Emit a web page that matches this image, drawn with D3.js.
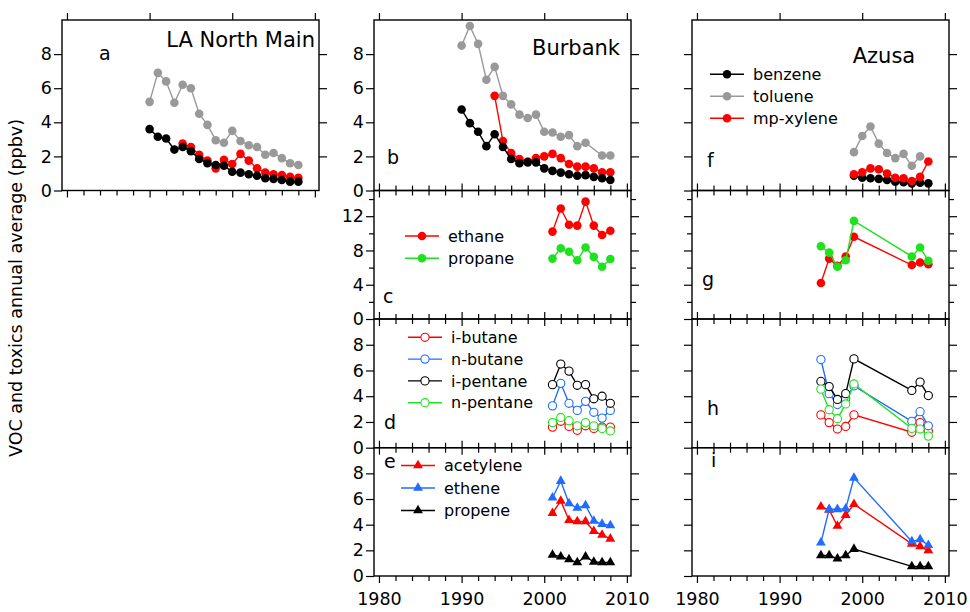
<!DOCTYPE html>
<html>
<head>
<meta charset="utf-8">
<script src="https://cdn.jsdelivr.net/npm/d3@7"></script>
<style>
  body { margin: 0; background: #fff; }
  svg { font-family: "DejaVu Sans", sans-serif; }
</style>
</head>
<body>
<svg id="chart" width="970" height="612"></svg>
<script>
// annees des series
var yearsLA = [1990,1991,1992,1993,1994,1995,1996,1997,1998,1999,2000,2001,2002,2003,2004,2005,2006,2007,2008];
var yearsBurbank = [1990,1991,1992,1993,1994,1995,1996,1997,1998,1999,2000,2001,2002,2003,2004,2005,2006,2007,2008];
var yearsBurbankVoc = [2001,2002,2003,2004,2005,2006,2007,2008];
var yearsAzusa = [1999,2000,2001,2002,2003,2004,2005,2006,2007,2008];
var yearsAzusaVoc = [1995,1996,1997,1998,1999,2006,2007,2008];

// a : LA North Main
var laBenzene = [3.6,3.15,3.05,2.4,2.55,2.3,1.85,1.6,1.5,1.45,1.1,1.05,0.95,0.87,0.72,0.68,0.62,0.52,0.52];
var laToluene = [5.2,6.9,6.4,5.15,6.2,6.0,4.5,3.85,2.95,2.8,3.5,2.9,2.65,2.55,2.1,2.2,1.9,1.6,1.5];
var laXylene = [null,null,null,null,2.75,2.55,2.1,1.75,1.3,1.8,1.55,2.15,1.75,1.3,1.05,0.95,0.9,0.8,0.75];

// b : Burbank
var bbBenzene = [4.75,3.95,3.45,2.6,3.3,2.55,1.85,1.6,1.65,1.65,1.3,1.15,1.05,0.95,0.87,0.9,0.8,0.72,0.62];
var bbToluene = [8.5,9.65,8.6,6.5,7.25,5.55,5.05,4.45,4.25,4.45,3.45,3.4,3.15,3.25,2.6,2.8,null,2.05,2.05];
var bbXylene = [null,null,null,null,5.55,2.9,2.2,1.85,1.7,1.9,2.0,2.15,1.9,1.55,1.4,1.4,1.3,1.07,1.07];

// c, d, e : Burbank
var bbEthane = [10.2,12.9,11.0,10.9,13.7,10.9,9.8,10.3];
var bbPropane = [7.05,8.25,7.85,6.85,8.35,7.25,6.1,7.0];
var bbIButane = [1.6,2.05,1.65,1.35,1.7,1.5,1.6,1.6];
var bbNButane = [3.25,5.0,3.45,2.9,3.6,2.75,2.3,2.9];
var bbIPentane = [4.9,6.5,5.95,4.85,4.9,3.8,4.0,3.45];
var bbNPentane = [1.95,2.35,2.1,1.7,1.95,1.7,1.5,1.3];
var bbAcetylene = [4.9,5.85,4.35,4.25,4.25,3.5,3.2,2.9];
var bbEthene = [6.1,7.4,5.65,5.3,5.5,4.3,4.05,3.95];
var bbPropene = [1.65,1.5,1.3,1.05,1.5,1.1,1.05,1.05];

// f : Azusa
var azBenzene = [0.87,0.75,0.72,0.68,0.62,0.52,0.48,0.42,0.46,0.42];
var azToluene = [2.25,3.2,3.75,2.75,2.2,1.9,2.15,1.45,2.0,null];
var azXylene = [0.95,1.07,1.3,1.25,1.0,0.75,0.72,0.56,0.8,1.7];

// g, h, i : Azusa
var azEthane = [4.2,7.05,6.2,7.3,9.6,6.3,6.6,6.4];
var azPropane = [8.5,7.75,6.1,6.85,11.45,7.3,8.35,6.8];
var azIButane = [2.55,1.95,1.45,1.65,2.55,1.2,1.95,1.3];
var azNButane = [6.85,4.2,3.35,3.8,4.8,2.05,2.8,1.7];
var azIPentane = [5.15,4.75,3.75,4.2,6.9,4.45,5.1,4.05];
var azNPentane = [4.55,2.95,2.25,3.4,4.95,1.5,1.45,0.9];
var azAcetylene = [5.4,5.15,3.9,4.75,5.6,2.5,2.3,2.0];
var azEthene = [2.6,5.2,5.2,5.25,7.65,2.7,2.85,2.4];
var azPropene = [1.6,1.6,1.35,1.6,2.1,0.75,0.75,0.75];

// graduations
var majorYears = [1980,1990,2000,2010];
var minorYears = [1982,1984,1986,1988,1992,1994,1996,1998,2002,2004,2006,2008];
var ticks10 = [0,2,4,6,8];
var ticks15 = [0,4,8,12];
var minor15 = [2,6,10,14];

var red = "#ff0000", gray = "#999999", green = "#1ee21e", blue = "#1f6cff";

var cols = [{x0: 62, x1: 319}, {x0: 374, x1: 631}, {x0: 692, x1: 949}];
var rows = [{y0: 20, y1: 190.5}, {y0: 190.5, y1: 319}, {y0: 319, y1: 447.7}, {y0: 447.7, y1: 576}];

function s(name, years, values, color, marker) {
    return { name: name, years: years, values: values, color: color, marker: marker };
}

var panels = [
    { col: 0, row: 0, letter: "a", lx: 99, ly: 60, ymax: 10, title: "LA North Main", tx: 315, ty: 47, anchor: "end",
      series: [s("toluene", yearsLA, laToluene, gray, "dot"), s("mp-xylene", yearsLA, laXylene, red, "dot"), s("benzene", yearsLA, laBenzene, "#000", "dot")] },
    { col: 1, row: 0, letter: "b", lx: 387, ly: 164, ymax: 10, title: "Burbank", tx: 620, ty: 55, anchor: "end",
      series: [s("toluene", yearsBurbank, bbToluene, gray, "dot"), s("mp-xylene", yearsBurbank, bbXylene, red, "dot"), s("benzene", yearsBurbank, bbBenzene, "#000", "dot")] },
    { col: 1, row: 1, letter: "c", lx: 383, ly: 303, ymax: 15,
      legend: { x: 405, y: 236, dy: 22.3 },
      series: [s("ethane", yearsBurbankVoc, bbEthane, red, "dot"), s("propane", yearsBurbankVoc, bbPropane, green, "dot")] },
    { col: 1, row: 2, letter: "d", lx: 384, ly: 429, ymax: 10,
      legend: { x: 408, y: 337.3, dy: 21.8 },
      series: [s("i-butane", yearsBurbankVoc, bbIButane, red, "ring"), s("n-butane", yearsBurbankVoc, bbNButane, blue, "ring"),
               s("i-pentane", yearsBurbankVoc, bbIPentane, "#000", "ring"), s("n-pentane", yearsBurbankVoc, bbNPentane, green, "ring")] },
    { col: 1, row: 3, letter: "e", lx: 384, ly: 468, ymax: 10,
      legend: { x: 401, y: 465.5, dy: 22.5 },
      series: [s("acetylene", yearsBurbankVoc, bbAcetylene, red, "tri"), s("ethene", yearsBurbankVoc, bbEthene, blue, "tri"), s("propene", yearsBurbankVoc, bbPropene, "#000", "tri")] },
    { col: 2, row: 0, letter: "f", lx: 707, ly: 167, ymax: 10, title: "Azusa", tx: 884, ty: 63, anchor: "middle",
      legend: { x: 710, y: 74.3, dy: 22 },
      series: [s("benzene", yearsAzusa, azBenzene, "#000", "dot"), s("toluene", yearsAzusa, azToluene, gray, "dot"), s("mp-xylene", yearsAzusa, azXylene, red, "dot")] },
    { col: 2, row: 1, letter: "g", lx: 702, ly: 286, ymax: 15,
      series: [s("ethane", yearsAzusaVoc, azEthane, red, "dot"), s("propane", yearsAzusaVoc, azPropane, green, "dot")] },
    { col: 2, row: 2, letter: "h", lx: 707, ly: 415, ymax: 10,
      series: [s("i-butane", yearsAzusaVoc, azIButane, red, "ring"), s("n-butane", yearsAzusaVoc, azNButane, blue, "ring"),
               s("i-pentane", yearsAzusaVoc, azIPentane, "#000", "ring"), s("n-pentane", yearsAzusaVoc, azNPentane, green, "ring")] },
    { col: 2, row: 3, letter: "i", lx: 711, ly: 467, ymax: 10,
      series: [s("acetylene", yearsAzusaVoc, azAcetylene, red, "tri"), s("ethene", yearsAzusaVoc, azEthene, blue, "tri"), s("propene", yearsAzusaVoc, azPropene, "#000", "tri")] }
];

var svg = d3.select("#chart");

// titre de l'axe y commun
svg.append("text")
    .attr("transform", "translate(22,288) rotate(-90)")
    .attr("text-anchor", "middle")
    .attr("font-size", 17.5)
    .text("VOC and toxics annual average (ppbv)");

function drawMarker(g, type, color, cx, cy) {
    if (type == "dot") {
        g.append("circle").attr("cx", cx).attr("cy", cy).attr("r", 4.3).attr("fill", color);
    } else if (type == "ring") {
        g.append("circle").attr("cx", cx).attr("cy", cy).attr("r", 4.1)
            .attr("fill", "#fff").attr("stroke", color).attr("stroke-width", 1.1);
    } else {
        g.append("path").attr("d", d3.symbol(d3.symbolTriangle, 42)())
            .attr("transform", "translate(" + cx + "," + cy + ")").attr("fill", color);
    }
}

panels.forEach(function(p) {
    var c = cols[p.col], r = rows[p.row];
    var x = d3.scaleLinear().domain([1979.4, 2010.5]).range([c.x0, c.x1]);
    var y = d3.scaleLinear().domain([0, p.ymax]).range([r.y1, r.y0]);
    var g = svg.append("g");

    var yMajor = p.ymax == 15 ? ticks15 : ticks10;
    var labels = p.col < 2;

    // axe gauche
    var left = g.append("g").attr("transform", "translate(" + c.x0 + ",0)")
        .call(d3.axisLeft(y).tickValues(yMajor).tickSize(8).tickPadding(2)
            .tickFormat(labels ? d3.format("d") : ""));
    left.select(".domain").remove();
    left.selectAll("text").attr("font-size", 17.5).attr("font-family", "DejaVu Sans").attr("fill", "#000");
    left.selectAll("line").attr("stroke-width", 1.2);

    // axe droit
    var right = g.append("g").attr("transform", "translate(" + c.x1 + ",0)")
        .call(d3.axisRight(y).tickValues(yMajor.filter(function(v) { return v > 0; })).tickSize(8).tickFormat(""));
    right.select(".domain").remove();
    right.selectAll("line").attr("stroke-width", 1.2);

    if (p.ymax == 15) {
        [[c.x0, d3.axisLeft], [c.x1, d3.axisRight]].forEach(function(a) {
            var m = g.append("g").attr("transform", "translate(" + a[0] + ",0)")
                .call(a[1](y).tickValues(minor15).tickSize(5).tickFormat(""));
            m.select(".domain").remove();
            m.selectAll("line").attr("stroke-width", 1.2);
        });
    }

    // axe du bas
    var bottom = g.append("g").attr("transform", "translate(0," + r.y1 + ")")
        .call(d3.axisBottom(x).tickValues(majorYears).tickSize(7).tickPadding(10)
            .tickFormat(p.row == 3 ? d3.format("d") : ""));
    bottom.select(".domain").remove();
    bottom.selectAll("text").attr("font-size", 17.5).attr("font-family", "DejaVu Sans").attr("fill", "#000");
    bottom.selectAll("line").attr("stroke-width", 1.2);
    var bMinor = g.append("g").attr("transform", "translate(0," + r.y1 + ")")
        .call(d3.axisBottom(x).tickValues(minorYears).tickSize(5).tickFormat(""));
    bMinor.select(".domain").remove();
    bMinor.selectAll("line").attr("stroke-width", 1.2);

    // axe du haut
    var top = g.append("g").attr("transform", "translate(0," + r.y0 + ")")
        .call(d3.axisTop(x).tickValues(majorYears).tickSize(7).tickFormat(""));
    top.select(".domain").remove();
    top.selectAll("line").attr("stroke-width", 1.2);
    if (p.row > 0) {
        var tMinor = g.append("g").attr("transform", "translate(0," + r.y0 + ")")
            .call(d3.axisTop(x).tickValues(minorYears).tickSize(5).tickFormat(""));
        tMinor.select(".domain").remove();
        tMinor.selectAll("line").attr("stroke-width", 1.2);
    }

    // cadre
    g.append("rect")
        .attr("x", c.x0).attr("y", r.y0)
        .attr("width", c.x1 - c.x0).attr("height", r.y1 - r.y0)
        .attr("fill", "none").attr("stroke", "#000").attr("stroke-width", 1.4);

    // series
    p.series.forEach(function(se) {
        var pts = se.years.map(function(yr, i) { return { date: yr, value: se.values[i] }; })
            .filter(function(d) { return d.value != null; });
        var line = d3.line()
            .x(function(d) { return x(d.date); })
            .y(function(d) { return y(d.value); });
        g.append("path")
            .datum(pts)
            .attr("fill", "none")
            .attr("stroke", se.color)
            .attr("stroke-width", 1.4)
            .attr("d", line);
        pts.forEach(function(d) { drawMarker(g, se.marker, se.color, x(d.date), y(d.value)); });
    });

    // lettre du panneau
    g.append("text").attr("x", p.lx).attr("y", p.ly).attr("font-size", 19).text(p.letter);

    if (p.title) {
        g.append("text").attr("x", p.tx).attr("y", p.ty).attr("font-size", 21)
            .attr("text-anchor", p.anchor).text(p.title);
    }

    // legende
    if (p.legend) {
        p.series.forEach(function(se, i) {
            var ly = p.legend.y + i * p.legend.dy;
            g.append("line").attr("x1", p.legend.x).attr("x2", p.legend.x + 34)
                .attr("y1", ly).attr("y2", ly)
                .attr("stroke", se.color).attr("stroke-width", 1.4);
            drawMarker(g, se.marker, se.color, p.legend.x + 17, ly);
            g.append("text").attr("x", p.legend.x + 43).attr("y", ly).attr("dy", "0.35em")
                .attr("font-size", 16).text(se.name);
        });
    }
});
</script>
</body>
</html>
